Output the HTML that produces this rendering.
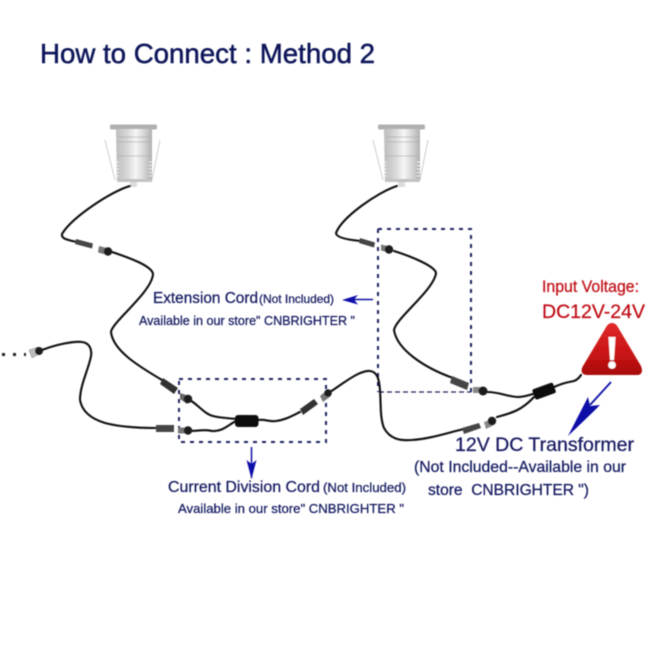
<!DOCTYPE html>
<html><head><meta charset="utf-8"><style>
html,body{margin:0;padding:0;background:#fff;width:650px;height:650px;overflow:hidden}
svg{display:block}
text{font-family:"Liberation Sans",sans-serif}
</style></head><body>
<svg width="650" height="650" viewBox="0 0 650 650" xmlns="http://www.w3.org/2000/svg">
<defs>
<linearGradient id="m" x1="0" x2="1" y1="0" y2="0">
<stop offset="0" stop-color="#bdbdbd"/><stop offset=".3" stop-color="#d6d6d6"/><stop offset=".55" stop-color="#f6f6f6"/><stop offset=".8" stop-color="#d2d2d2"/><stop offset="1" stop-color="#b0b0b0"/>
</linearGradient>
<linearGradient id="r" x1="0" x2="0" y1="0" y2="1">
<stop offset="0" stop-color="#e02a2a"/><stop offset=".6" stop-color="#c81414"/><stop offset="1" stop-color="#a80c0c"/>
</linearGradient>
<filter id="b" x="-5%" y="-5%" width="110%" height="110%"><feGaussianBlur stdDeviation="0.5"/></filter>
<g id="lamp">
<path d="M105 140L115 180M160 140L152 180" stroke="#cfcfcf" stroke-width="1" fill="none"/>
<rect x="110" y="124.500" width="47" height="5" rx="1.500" fill="#b0b0b0"/>
<path d="M116 129H152L152 182H117Z" fill="url(#m)"/>
<path d="M118 137H151M118 142H151M118 156H151" stroke="#a8a8a8" stroke-width="1" opacity=".6"/>
<path d="M116 162h3M116 165.500h3M116 169h3M116 172.500h3M116 176h3M149 162h3M149 165.500h3M149 169h3M149 172.500h3M149 176h3" stroke="#eee" stroke-width="1"/>
<rect x="117" y="179" width="35" height="3" fill="#c2c2c2"/>
<rect x="130" y="182" width="7" height="5" fill="#ddd"/>
</g>
</defs>
<g filter="url(#b)">
<use href="#lamp"/>
<use href="#lamp" transform="translate(268,0)"/>

<!-- dashed boxes -->
<g fill="none" stroke="#1c2160" stroke-width="2" stroke-dasharray="4 5">
<path d="M179 379H326V442H179Z"/>
<path d="M378 229H471V392"/>
<path d="M378 229V392"/>
</g>
<path d="M379 392H471" stroke="#1c2160" stroke-width="1.200" stroke-dasharray="5 3" fill="none"/>
<path d="M2 354.500H26" stroke="#222" stroke-width="3" stroke-dasharray="3 8" fill="none"/>

<!-- cables -->
<g fill="none" stroke="#0c0c0c" stroke-width="2.100" stroke-linecap="round">
<path d="M130 186C112 191 72 217 62 234C61 239 68 240 77 242"/>
<path d="M112 252C130 258 152 266 153 274C152 292 112 322 111 332C113 351 140 367 162 380"/>
<path d="M188 399C198 404 204 414 213 416C220 418 228 418 236 419"/>
<path d="M258 420C265 419 270 422 276 421C285 420 292 416 300 412"/>
<path d="M330 392C345 382 360 370 370 371C377 372 379 378 380 390C381 405 380 418 384 428C390 439 400 441 412 440C430 439 450 432 464 429"/>
<path d="M497 417C512 413 522 410 534 397"/>
<path d="M397 186C378 192 342 217 336 233C336 238 350 240 361 241"/>
<path d="M394 251C410 256 435 266 436 273C434 290 396 318 394 330C397 350 425 368 453 378"/>
<path d="M487 392C500 392 508 397 518 397C524 397 530 395 536 393"/>
<path d="M554 387C565 382 570 382 574 381C577 380 579 378 581 375"/>
<path d="M42 350C55 345 72 341 82 342C90 343 92 350 91 356C89 368 80 385 80 400C82 412 92 419 105 423C120 427 140 428 157 428"/>
<path d="M190 431C200 431 205 429 212 431C222 432 228 425 236 421"/>
</g>

<!-- connectors -->
<g>
<path d="M76 239L93 243.500L92 248.500L75 244Z" fill="#444"/>
<path d="M99 246L111 249L109 255.500L98 252.500Z" fill="#777"/>
<circle cx="108" cy="251.500" r="4.200" fill="#1a1a1a"/>
<path d="M360 238L375 242.500L374 247.500L359 243Z" fill="#444"/>
<path d="M381 244.500L392 247L390 253L381 250.500Z" fill="#777"/>
<circle cx="389" cy="249.500" r="4.200" fill="#1a1a1a"/>
<path d="M163 378L178 388L174 394L160 384Z" fill="#333"/>
<path d="M180 393L192 397L187 404L180 399Z" fill="#666"/>
<circle cx="188" cy="399" r="4.200" fill="#1a1a1a"/>
<rect x="156" y="425" width="18" height="7" fill="#444"/>
<rect x="178" y="427.500" width="8" height="6" fill="#777"/>
<circle cx="188" cy="430.500" r="4.200" fill="#1a1a1a"/>
<path d="M300 409L314 399L318 404L303 415Z" fill="#333"/>
<path d="M320 396L327 390L331 396L323 402Z" fill="#777"/>
<circle cx="328" cy="393" r="3.800" fill="#1a1a1a"/>
<path d="M452 376L469 383L467 390L450 383Z" fill="#444"/>
<rect x="473" y="387" width="7" height="6" fill="#888"/>
<circle cx="483" cy="391" r="4.500" fill="#1a1a1a"/>
<path d="M462 428L479 423L481 428L464 434Z" fill="#444"/>
<path d="M484 422L492 419L494 425L486 429Z" fill="#888"/>
<circle cx="492" cy="421" r="4.200" fill="#1a1a1a"/>
<path d="M29 350L38 347L41 353L32 358Z" fill="#bbb" stroke="#888" stroke-width=".5"/>
<circle cx="39" cy="351" r="4" fill="#1a1a1a"/>
<!-- division boxes -->
<rect x="235" y="415" width="23.500" height="12" rx="3" fill="#0c0c0c"/>
<rect x="533" y="386" width="22" height="11" rx="2" fill="#0c0c0c" transform="rotate(-20 543 391)"/>
</g>

<!-- warning triangle -->
<path d="M612 323C609 323 607 325 605 329L583 366C580 371 582 375 587 375H637C642 375 643 371 641 366L619 329C617 325 615 323 612 323Z" fill="url(#r)"/>
<path d="M608.500 337H615.500L614 360H610Z" fill="#fff"/>
<circle cx="612" cy="365" r="3.800" fill="#fff"/>

<!-- arrows -->
<g fill="#1010a8" stroke="#1010a8">
<path d="M373 299.500H350" stroke-width="1.500" fill="none"/>
<path d="M342 300L358 295L354 299.500L358 304.500Z" stroke="none"/>
<path d="M251.500 447V478" stroke-width="1.500" fill="none"/>
<path d="M251.500 479L246.500 460L251.500 464L256.500 460Z" stroke="none"/>
<path d="M611 382L590 405" stroke-width="1.800" fill="none"/>
<path d="M568 436L588 397L590 406L600 405L593 412Z" stroke="none"/>
</g>

<!-- text -->
<g fill="#161a60" stroke="#161a60" stroke-width="0.250">
<text x="40" y="63" font-size="27.600" textLength="335" lengthAdjust="spacingAndGlyphs" fill="#10155a" stroke="#10155a" stroke-width="0.500">How to Connect : Method 2</text>
<text x="153" y="303" font-size="15.400" textLength="105" lengthAdjust="spacingAndGlyphs">Extension Cord</text>
<text x="259" y="303" font-size="11.900" textLength="75" lengthAdjust="spacingAndGlyphs">(Not Included)</text>
<text x="139" y="325" font-size="12.700" textLength="216" lengthAdjust="spacingAndGlyphs">Available in our store" CNBRIGHTER "</text>
<text x="168" y="492" font-size="15.900" textLength="152" lengthAdjust="spacingAndGlyphs">Current Division Cord</text>
<text x="323" y="492" font-size="13.200" textLength="83" lengthAdjust="spacingAndGlyphs">(Not Included)</text>
<text x="178" y="513" font-size="13.300" textLength="226" lengthAdjust="spacingAndGlyphs">Available in our store" CNBRIGHTER "</text>
<text x="455" y="451" font-size="19.400" textLength="179" lengthAdjust="spacingAndGlyphs">12V DC Transformer</text>
<text x="414" y="472" font-size="15.800" textLength="212" lengthAdjust="spacingAndGlyphs">(Not Included--Available in our</text>
<text x="428" y="495" font-size="15.500" textLength="161" lengthAdjust="spacingAndGlyphs" xml:space="preserve">store  CNBRIGHTER ")</text>
</g>
<g fill="#c00f18" stroke="#c00f18" stroke-width="0.250">
<text x="542" y="292" font-size="16.200" textLength="97" lengthAdjust="spacingAndGlyphs">Input Voltage:</text>
<text x="542" y="318" font-size="19.300" textLength="103" lengthAdjust="spacingAndGlyphs">DC12V-24V</text>
</g>
</g>
</svg>
</body></html>
